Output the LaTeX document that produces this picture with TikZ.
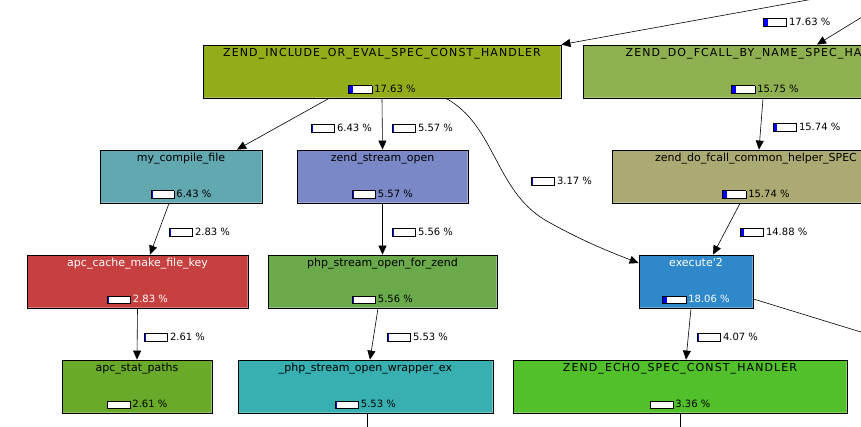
\documentclass[tikz,border=0pt]{standalone}
\usepackage{fontspec}
\setmainfont{DejaVu Sans}
\newfontfamily\capsfont[LetterSpace=10]{DejaVu Sans}
\usetikzlibrary{arrows.meta}

\definecolor{incC}{RGB}{145,174,26}
\definecolor{fcallC}{RGB}{143,176,80}
\definecolor{compC}{RGB}{98,168,176}
\definecolor{zsoC}{RGB}{122,136,200}
\definecolor{helpC}{RGB}{170,170,114}
\definecolor{keyC}{RGB}{198,64,64}
\definecolor{forzC}{RGB}{106,170,74}
\definecolor{execC}{RGB}{46,136,202}
\definecolor{statC}{RGB}{106,170,42}
\definecolor{wrapC}{RGB}{56,176,178}
\definecolor{echoC}{RGB}{82,192,42}

\newcommand\costbar[1]{{\setlength\fboxsep{0pt}\setlength\fboxrule{0.7pt}%
  \raisebox{-0.5pt}{\fcolorbox{black}{white}{\rlap{\color{blue}\rule{0.224\dimexpr#1pt\relax}{7pt}}\rule{0pt}{7pt}\hspace{22.4pt}}}}}
\newcommand\cost[1]{\costbar{#1}\hspace{2pt}#1~\%}

\tikzset{
  fn/.style n args={4}{draw=black, line width=0.8pt, fill=#1, minimum height=53pt, inner sep=0pt,
    path picture={\draw[white, opacity=0.3, line width=1.6pt] (path picture bounding box.south west) rectangle (path picture bounding box.north east);},
    label={[fnlabel, text=#2, anchor=north, yshift=-3.5pt]north:\fontsize{11}{13}\selectfont #3},
    label={[fnlabel, text=#2, anchor=south, yshift=4.3pt]south:\cost{#4}}},
  fnlabel/.style={inner sep=0pt, font=\fontsize{10}{12}\selectfont},
  cost/.style={inner sep=0pt, anchor=west, font=\fontsize{10}{12}\selectfont},
  call/.style={-{Triangle[length=9pt,width=8pt]}, line width=0.6pt},
}

\begin{document}
\begin{tikzpicture}[x=1pt,y=-1pt]
	\useasboundingbox[fill=white] (0,0) rectangle (861,427);
	\clip (0,0) rectangle (861,427);

	% functions
	\node[fn={incC}{black}{\capsfont ZEND\_INCLUDE\_OR\_EVAL\_SPEC\_CONST\_HANDLER}{17.63}, minimum width=358pt] (inc) at (382,71.5) {};
	\node[fn={fcallC}{black}{\capsfont ZEND\_DO\_FCALL\_BY\_NAME\_SPEC\_HANDLER}{15.75}, minimum width=364pt] (fcall) at (765,71.5) {};
	\node[fn={compC}{black}{my\_compile\_file}{6.43}, minimum width=162pt] (comp) at (181,176.5) {};
	\node[fn={zsoC}{black}{zend\_stream\_open}{5.57}, minimum width=171pt] (zso) at (382.5,176.5) {};
	\node[fn={helpC}{black}{zend\_do\_fcall\_common\_helper\_SPEC}{15.74}, minimum width=288pt] (helper) at (756,176.5) {};
	\node[fn={keyC}{white}{apc\_cache\_make\_file\_key}{2.83}, minimum width=221pt] (key) at (137.5,281.5) {};
	\node[fn={forzC}{black}{php\_stream\_open\_for\_zend}{5.56}, minimum width=229pt] (forz) at (382.5,281.5) {};
	\node[fn={execC}{white}{execute\textquotesingle 2}{18.06}, minimum width=114pt] (exec) at (696,281.5) {};
	\node[fn={statC}{black}{apc\_stat\_paths}{2.61}, minimum width=150pt] (stat) at (137,386.5) {};
	\node[fn={wrapC}{black}{\_php\_stream\_open\_wrapper\_ex}{5.53}, minimum width=255pt] (wrap) at (365.5,386.5) {};
	\node[fn={echoC}{black}{\capsfont ZEND\_ECHO\_SPEC\_CONST\_HANDLER}{3.36}, minimum width=334pt] (echo) at (680,386.5) {};

	% callers and callees outside the view
	\coordinate (up1) at (863,-10);
	\coordinate (up2) at (880,6);
	\coordinate (dn1) at (900,344);
	\coordinate (dn2) at (367,440);
	\coordinate (dn3) at (680,440);

	% calls
	\draw[call] (up1) -- (inc.north east);
	\draw[call] (up2) -- ([xshift=52pt]fcall.north);
	\draw[call] ([xshift=-53pt]inc.south) -- ([xshift=56pt]comp.north);
	\draw[call] (inc.south) -- (zso.north);
	\draw[call] ([xshift=64pt]inc.south) .. controls (495,125) and (495,190) .. (545,220)
		.. controls (580,240) and (610,252) .. ([yshift=18.5pt]exec.west);
	\draw[call] ([xshift=-2pt]fcall.south) -- ([xshift=3pt]helper.north);
	\draw[call] ([xshift=-16pt]helper.south) -- ([xshift=17pt]exec.north);
	\draw[call] ([xshift=-12pt]comp.south) -- ([xshift=12.5pt]key.north);
	\draw[call] (zso.south) -- (forz.north);
	\draw[call] (key.south) -- (stat.north);
	\draw[call] ([xshift=-4.5pt]forz.south) -- ([xshift=4.5pt]wrap.north);
	\draw[call] ([xshift=-5pt]exec.south) -- ([xshift=6pt]echo.north);
	\draw[call] ([yshift=-17.5pt]exec.east) -- (dn1);
	\draw[call] ([xshift=1.5pt]wrap.south) -- (dn2);
	\draw[call] (echo.south) -- (dn3);

	% call costs
	\node[cost] (c1) at (763,22.5) {\cost{17.63}};
	\node[cost] (c2) at (311,128) {\cost{6.43}};
	\node[cost] (c3) at (392,128) {\cost{5.57}};
	\node[cost] (c4) at (773,127.5) {\cost{15.74}};
	\node[cost] (c5) at (531,181) {\cost{3.17}};
	\node[cost] (c6) at (169,232.5) {\cost{2.83}};
	\node[cost] (c7) at (392,232.5) {\cost{5.56}};
	\node[cost] (c8) at (740,232.5) {\cost{14.88}};
	\node[cost] (c9) at (144,337.5) {\cost{2.61}};
	\node[cost] (c10) at (387,337.5) {\cost{5.53}};
	\node[cost] (c11) at (697,337.5) {\cost{4.07}};
\end{tikzpicture}
\end{document}
